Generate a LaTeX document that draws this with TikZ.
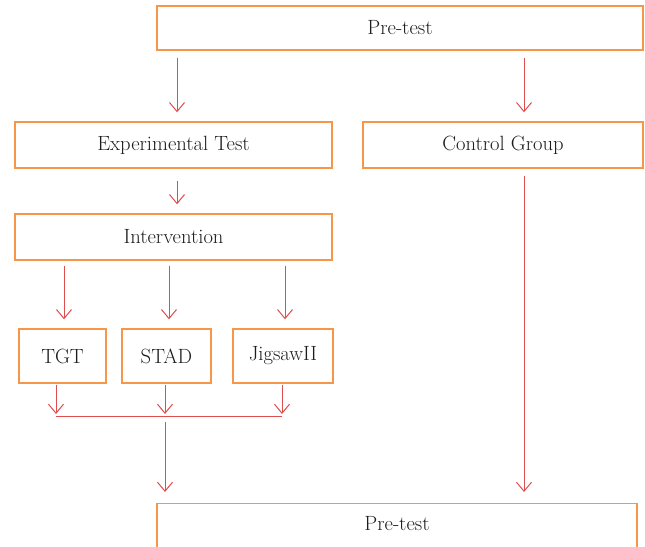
\documentclass[tikz,border=0pt]{standalone}
\usetikzlibrary{arrows.meta}
\definecolor{boxc}{RGB}{246,150,72}
\definecolor{arrc}{RGB}{222,78,78}
\definecolor{txtc}{RGB}{30,27,28}
\begin{document}
\begin{tikzpicture}[x=1pt,y=-1pt,
  box/.style={draw=boxc, line width=1.4pt, rectangle, inner sep=0pt, text=txtc,
    font=\fontsize{20.6}{24}\selectfont},
  lbl/.style={text=txtc, inner sep=0pt, font=\fontsize{20.6}{24}\selectfont},
  arr/.style={draw=arrc, line width=1pt, -{Straight Barb[length=9pt,width=15pt,line width=1pt]}},
  ln/.style={draw=arrc, line width=1pt}]
\useasboundingbox (0,0) rectangle (645,546);
\clip (0,0) rectangle (645,546);
\node[box, minimum width=486, minimum height=44] (pre) at (400,28) {Pre-test};
\node[box, minimum width=317, minimum height=46] (exp) at (173.5,145) {Experimental Test};
\node[box, minimum width=280, minimum height=46] (ctrl) at (503,145) {Control Group};
\node[box, minimum width=317, minimum height=46] (int) at (173.5,237) {Intervention};
\node[box, minimum width=87, minimum height=54] (tgt) at (62.5,356) {TGT};
\node[box, minimum width=89, minimum height=54] (stad) at (166.5,356) {STAD};
\node[box, minimum width=100, minimum height=54] (jig) at (283,356) {JigsawII};
\node[box, minimum width=480, minimum height=80, anchor=north] (post) at (397,503) {};
\node[lbl] (postlbl) at (397,524) {Pre-test};
\coordinate (m) at (165,416);
% arrows
\draw[arr, shorten <=7pt, shorten >=9pt] ([xshift=3.5]pre.south -| exp.north) -- ([xshift=3.5]exp.north);
\draw[arr, shorten <=7pt, shorten >=9pt] ([xshift=21]pre.south -| ctrl.north) -- ([xshift=21]ctrl.north);
\draw[arr, shorten <=12pt, shorten >=9pt] ([xshift=3.5]exp.south) -- ([xshift=3.5]int.north);
\draw[arr, shorten <=5pt, shorten >=9pt] ([xshift=1.5]int.south -| tgt.north) -- ([xshift=1.5]tgt.north);
\draw[arr, shorten <=5pt, shorten >=9pt] ([xshift=2.5]int.south -| stad.north) -- ([xshift=2.5]stad.north);
\draw[arr, shorten <=5pt, shorten >=9pt] ([xshift=2]int.south -| jig.north) -- ([xshift=2]jig.north);
\draw[arr, shorten <=1pt, shorten >=2pt] ([xshift=-6.5]tgt.south) -- ([xshift=-6.5]tgt.south |- m);
\draw[arr, shorten <=1pt, shorten >=2pt] ([xshift=-1.5]stad.south) -- ([xshift=-1.5]stad.south |- m);
\draw[arr, shorten <=1pt, shorten >=2pt] ([xshift=-1]jig.south) -- ([xshift=-1]jig.south |- m);
\draw[ln] ([xshift=-6.5]tgt.south |- m) -- ([xshift=-1]jig.south |- m);
\draw[arr, shorten <=6pt, shorten >=11pt] (m) -- (m |- post.north);
\draw[arr, shorten <=7pt, shorten >=11pt] ([xshift=21]ctrl.south) -- ([xshift=21]ctrl.south |- post.north);
\end{tikzpicture}
\end{document}
